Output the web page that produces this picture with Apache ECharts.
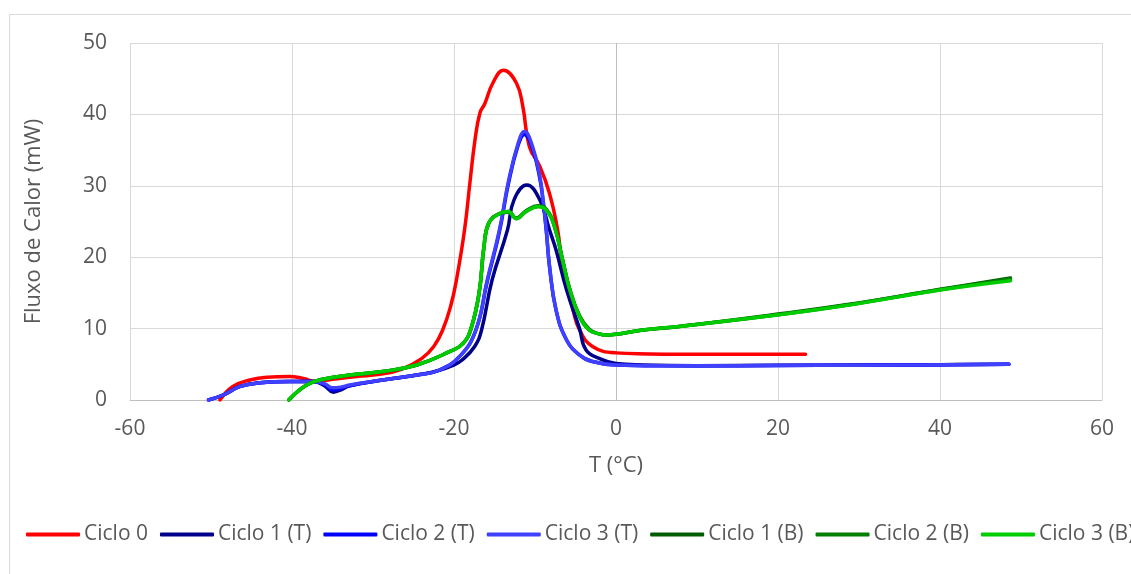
<!DOCTYPE html>
<html>
<head>
<meta charset="utf-8">
<script src="https://cdn.jsdelivr.net/npm/echarts@6/dist/echarts.min.js"></script>
<style>
  html, body { margin: 0; padding: 0; background: #fff; }
  #chart { width: 1131px; height: 574px; }
</style>
</head>
<body>
<div id="chart"></div>
<script>
// series names (legend order)
var names = ['Ciclo 0', 'Ciclo 1 (T)', 'Ciclo 2 (T)', 'Ciclo 3 (T)', 'Ciclo 1 (B)', 'Ciclo 2 (B)', 'Ciclo 3 (B)'];
var colors = ['#ff0000', '#00008b', '#0000ff', '#4040ff', '#005c00', '#007f00', '#00cc00'];

// Ciclo 0
var c0T = [-48.9, -47.3, -45.2, -43.1, -40.3, -38.6, -37, -35, -32, -29.2, -26.5, -24, -22.5, -21.4, -20.4, -19.7, -18.7, -18.0, -17.4, -16.8, -16.2, -15.2, -13.9, -12.3, -11.5, -10.7, -9.4, -8.2, -7.2, -6.6, -5.3, -4.5, -2.9, 0, 4, 8, 15, 23.4];
var c0Q = [0, 1.9, 2.8, 3.2, 3.3, 3.0, 2.6, 2.9, 3.3, 3.6, 4.3, 5.8, 7.5, 9.8, 13.2, 16.8, 23.8, 30.8, 36.5, 40.2, 41.5, 44.4, 46.2, 44.4, 41.1, 35.5, 32.7, 28.9, 23.8, 18.7, 12.6, 9.8, 7.5, 6.6, 6.45, 6.4, 6.4, 6.4];

// Ciclo 1 (T)
var t1T = [-50.3, -48.5, -46.4, -44, -40.3, -37.4, -36, -34.9, -33.8, -32.9, -28.8, -24, -22, -20.2, -19, -17.45, -16.6, -15.3, -13.4, -12.6, -11, -9.4, -8.2, -7.4, -6.1, -4.5, -3.7, -2, 0, 3.3, 10, 20, 30, 40, 48.5];
var t1Q = [0, 0.7, 1.9, 2.4, 2.6, 2.6, 2.0, 1.1, 1.5, 2.0, 2.8, 3.6, 4.1, 4.8, 5.6, 7.5, 9.8, 16.8, 23.8, 28, 30.1, 28, 23.8, 21, 15.4, 10, 7, 5.8, 5.1, 4.9, 4.8, 4.85, 4.9, 4.95, 5.0];

// Ciclo 2 (T)
var t2T = [-50.3, -48.5, -46.4, -44, -40.3, -37.4, -36, -35, -34, -32.9, -28.8, -24, -21.8, -19.3, -17.3, -15.9, -14.4, -13.3, -12.1, -11.3, -10.3, -9.4, -9, -8.6, -8.2, -7.4, -6.1, -4.5, -2.9, 0, 5, 15, 25, 35, 48.5];
var t2Q = [0, 0.7, 1.9, 2.4, 2.6, 2.6, 2.2, 1.4, 1.6, 2.0, 2.8, 3.6, 4.2, 6.1, 9.8, 16.6, 23.5, 30.2, 35.6, 37.2, 35.2, 31, 27.8, 23.6, 18.6, 12.6, 8.4, 6.3, 5.4, 4.9, 4.8, 4.8, 4.85, 4.9, 5.0];

// Ciclo 3 (T)
var t3T = [-50.3, -48.5, -46.4, -44, -40.3, -37.4, -36, -35, -34, -32.9, -28.8, -24, -21.8, -19.3, -17.3, -15.9, -14.4, -13.3, -12.1, -11.3, -10.3, -9.4, -9, -8.6, -8.2, -7.4, -6.1, -4.5, -2.9, 0, 5, 15, 25, 35, 48.5];
var t3Q = [0, 0.7, 1.9, 2.4, 2.6, 2.6, 2.3, 1.7, 1.8, 2.1, 2.8, 3.6, 4.2, 6.1, 9.8, 16.8, 23.8, 30.5, 35.9, 37.6, 35.5, 31.3, 28, 23.8, 18.7, 12.6, 8.4, 6.3, 5.4, 4.9, 4.8, 4.8, 4.85, 4.9, 5.0];

// Ciclo 1 (B)
var b1T = [-40.4, -38.2, -36.2, -32.9, -28.8, -24.6, -20.5, -18.9, -17.9, -16.9, -16.3, -15.7, -14.4, -13.3, -12.3, -11.1, -9.6, -8.6, -7.6, -6.6, -5.7, -4.5, -3.3, -2.2, -1.2, 0, 3.3, 7.8, 19.8, 28.8, 40, 48.7];
var b1Q = [0, 2.1, 2.9, 3.5, 4.0, 4.9, 6.8, 7.9, 10.0, 15, 21.5, 24.8, 26.1, 26.3, 25.5, 26.5, 27.2, 26.7, 24.4, 19.7, 15.5, 11.8, 9.9, 9.3, 9.1, 9.2, 9.8, 10.3, 12.0, 13.4, 15.5, 17.1];

// Ciclo 2 (B)
var b2T = [-40.4, -38.2, -36.2, -32.9, -28.8, -24.6, -20.5, -18.9, -17.9, -16.9, -16.3, -15.7, -14.4, -13.3, -12.3, -11.1, -9.6, -8.6, -7.6, -6.6, -5.7, -4.5, -3.3, -2.2, -1.2, 0, 3.3, 7.8, 19.8, 28.8, 40, 48.7];
var b2Q = [0, 2.1, 2.9, 3.5, 4.0, 4.9, 6.8, 7.9, 10.0, 15, 21.5, 24.8, 26.1, 26.4, 25.4, 26.4, 27.1, 26.6, 24.3, 19.6, 15.4, 11.7, 9.8, 9.3, 9.1, 9.2, 9.8, 10.3, 11.9, 13.35, 15.45, 16.95];

// Ciclo 3 (B)
var b3T = [-40.4, -38.2, -36.2, -32.9, -28.8, -24.6, -20.5, -18.9, -17.9, -16.9, -16.3, -15.7, -14.4, -13.3, -12.3, -11.1, -9.6, -8.6, -7.6, -6.6, -5.7, -4.5, -3.3, -2.2, -1.2, 0, 3.3, 7.8, 19.8, 28.8, 40, 48.7];
var b3Q = [0, 2.1, 2.9, 3.5, 4.0, 4.9, 6.8, 7.9, 10.0, 15, 21.5, 24.8, 26.1, 26.4, 25.4, 26.4, 27.1, 26.6, 24.3, 19.6, 15.4, 11.7, 9.8, 9.3, 9.1, 9.2, 9.8, 10.3, 11.9, 13.3, 15.4, 16.7];

var xTicks = [-60, -40, -20, 0, 20, 40, 60];
var yTicks = [0, 10, 20, 30, 40, 50];

var allT = [c0T, t1T, t2T, t3T, b1T, b2T, b3T];
var allQ = [c0Q, t1Q, t2Q, t3Q, b1Q, b2Q, b3Q];

function pairs(xs, ys) {
    var out = [];
    for (var i = 0; i < xs.length; i++) out.push([xs[i], ys[i]]);
    return out;
}

var font = '"Open Sans", sans-serif';
var series = [];
for (var s = 0; s < names.length; s++) {
    series.push({
        name: names[s],
        type: 'line',
        data: pairs(allT[s], allQ[s]),
        showSymbol: false,
        symbol: 'none',
        smooth: 0.45,
        lineStyle: { color: colors[s], width: 3.5, cap: 'round', join: 'round' },
        itemStyle: { color: colors[s] }
    });
}

// split line colours: the line at 0 is the (darker) vertical axis
var xSplitColors = xTicks.map(function (v) { return v === 0 ? '#bfbfbf' : '#d9d9d9'; });

var chart = echarts.init(document.getElementById('chart'), null, { renderer: 'canvas' });
chart.setOption({
    animation: false,
    backgroundColor: '#ffffff',
    textStyle: { fontFamily: font },
    graphic: [{
        type: 'rect',
        shape: { x: 9.5, y: 14.5, width: 1300, height: 700 },
        style: { fill: 'none', stroke: '#d9d9d9', lineWidth: 1 },
        silent: true
    }],
    grid: { left: 130, top: 43, right: 29, bottom: 174, containLabel: false },
    legend: {
        data: names,
        left: 21,
        top: 519,
        width: 1500,
        icon: 'roundRect',
        itemWidth: 54,
        itemHeight: 4,
        itemGap: 12,
        textStyle: { fontFamily: font, fontSize: 21, color: '#595959', padding: [0, 0, 0, -1] }
    },
    xAxis: {
        type: 'value',
        min: xTicks[0],
        max: xTicks[xTicks.length - 1],
        interval: 20,
        name: 'T (°C)',
        nameLocation: 'middle',
        nameGap: 55,
        nameTextStyle: { fontFamily: font, fontSize: 22, color: '#595959' },
        axisLine: { show: true, onZero: true, lineStyle: { color: '#bfbfbf', width: 1 } },
        axisTick: { show: false },
        axisLabel: { fontFamily: font, fontSize: 21, color: '#595959', margin: 19 },
        splitLine: { show: true, lineStyle: { color: xSplitColors, width: 1 } }
    },
    yAxis: {
        type: 'value',
        min: yTicks[0],
        max: yTicks[yTicks.length - 1],
        interval: 10,
        name: 'Fluxo de Calor (mW)',
        nameLocation: 'middle',
        nameRotate: 90,
        nameGap: 85,
        nameTextStyle: { fontFamily: font, fontSize: 22, color: '#595959' },
        axisLine: { show: false },
        axisTick: { show: false },
        axisLabel: { fontFamily: font, fontSize: 21, color: '#595959', margin: 23 },
        splitLine: { show: true, lineStyle: { color: '#d9d9d9', width: 1 } }
    },
    series: series
});
</script>
</body>
</html>
